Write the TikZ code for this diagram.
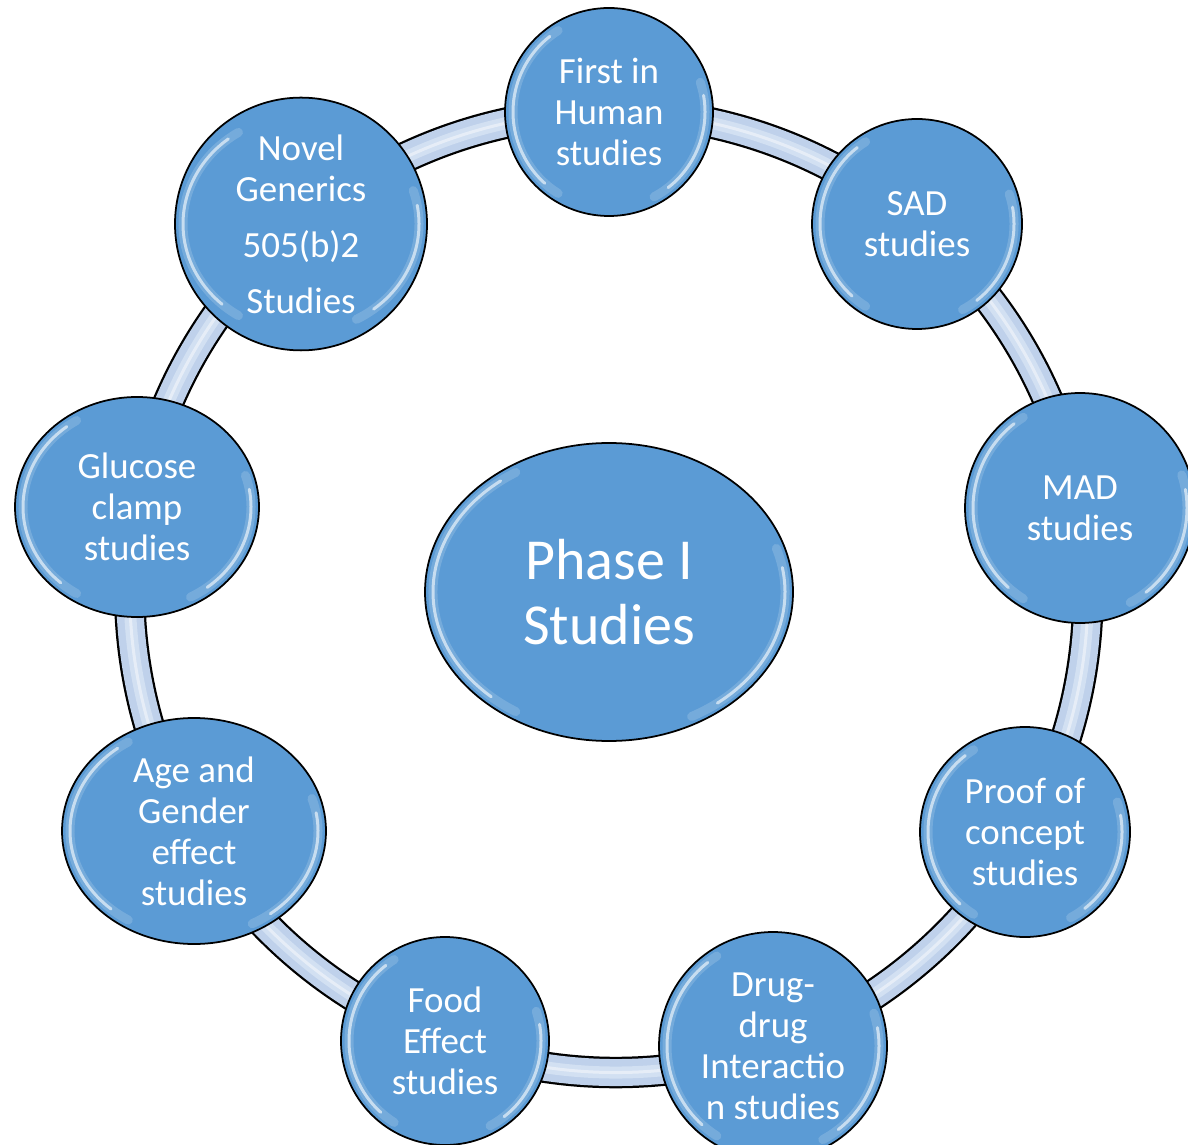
\documentclass[tikz,border=0pt]{standalone}
\usepackage{fontspec}
\setmainfont{Carlito}
\usetikzlibrary{shapes.geometric,calc}
\definecolor{bubblue}{HTML}{5B9BD5}
\definecolor{tubeA}{HTML}{BFD1EB}
\definecolor{tubeB}{HTML}{D2E0F2}
\pgfdeclarelayer{bg}
\pgfsetlayers{bg,main}
\tikzset{
  bub/.style={ellipse, draw=black, line width=1pt, fill=bubblue, text=white,
    inner sep=0pt, align=center, font=\fontsize{21}{23.3}\selectfont},
  hub/.style={bub, font=\fontsize{33}{37}\selectfont},
  tube/.style={draw=tubeA, line width=0.54cm,
    preaction={draw=black, line width=0.63cm},
    postaction={draw=tubeB, line width=0.24cm},
    postaction={draw=white, opacity=0.45, line width=0.06cm}},
  hlite/.style={white, line width=0.06cm, opacity=0.6, line cap=round},
  hlsoft/.style={white, line width=0.18cm, opacity=0.16, line cap=round},
}
\newcommand\gloss[3]{%
  \pgfmathsetmacro\glx{#2-0.16}\pgfmathsetmacro\gly{#3-0.16}%
  \draw[hlsoft] ([shift={(122:\glx cm and \gly cm)}]#1.center) arc[start angle=122, end angle=238, x radius=\glx cm, y radius=\gly cm];
  \draw[hlite] ([shift={(128:\glx cm and \gly cm)}]#1.center) arc[start angle=128, end angle=228, x radius=\glx cm, y radius=\gly cm];
  \draw[hlsoft] ([shift={(-62:\glx cm and \gly cm)}]#1.center) arc[start angle=-62, end angle=18, x radius=\glx cm, y radius=\gly cm];
  \draw[hlite] ([shift={(-52:\glx cm and \gly cm)}]#1.center) arc[start angle=-52, end angle=10, x radius=\glx cm, y radius=\gly cm];
}
\begin{document}
\begin{tikzpicture}
\useasboundingbox (0,0) rectangle (23.76,22.88);

\node[hub, minimum width=7.36cm, minimum height=5.96cm] (hub) at (12.18,11.04) {Phase I\\Studies};

\node[bub, minimum width=4.16cm, minimum height=4.16cm] (fih)  at (12.18,20.64) {First in\\Human\\studies};
\node[bub, minimum width=4.20cm, minimum height=4.20cm] (sad)  at (18.34,18.40) {SAD\\studies};
\node[bub, minimum width=4.60cm, minimum height=4.60cm] (mad)  at (21.60,12.72) {MAD\\studies};
\node[bub, minimum width=4.20cm, minimum height=4.20cm] (poc)  at (20.50,6.24)  {Proof of\\concept\\studies};
\node[bub, minimum width=4.56cm, minimum height=4.56cm] (ddi)  at (15.46,1.96)  {Drug-\\drug\\Interactio\\n studies};
\node[bub, minimum width=4.16cm, minimum height=4.16cm] (food) at (8.90,2.06)   {Food\\Effect\\studies};
\node[bub, minimum width=5.28cm, minimum height=4.52cm] (age)  at (3.88,6.26)   {Age and\\Gender\\effect\\studies};
\node[bub, minimum width=4.88cm, minimum height=4.40cm] (glu)  at (2.74,12.74)  {Glucose\\clamp\\studies};
\node[bub, minimum width=5.04cm, minimum height=4.64cm] (nov)  at (6.02,18.40)  {Novel\\Generics\\[0.3cm]505(b)2\\[0.3cm]Studies};

\gloss{hub}{3.68}{2.98}
\gloss{fih}{2.08}{2.08}
\gloss{sad}{2.10}{2.10}
\gloss{mad}{2.30}{2.30}
\gloss{poc}{2.10}{2.10}
\gloss{ddi}{2.28}{2.28}
\gloss{food}{2.08}{2.08}
\gloss{age}{2.64}{2.26}
\gloss{glu}{2.44}{2.20}
\gloss{nov}{2.52}{2.32}

\begin{pgfonlayer}{bg}
\foreach \a/\b in {fih/sad, sad/mad, mad/poc, poc/ddi, ddi/food, food/age, age/glu, glu/nov, nov/fih}
  \draw[tube] (\a.center) to[bend left=20, looseness=0.88] (\b.center);
\end{pgfonlayer}
\end{tikzpicture}
\end{document}
